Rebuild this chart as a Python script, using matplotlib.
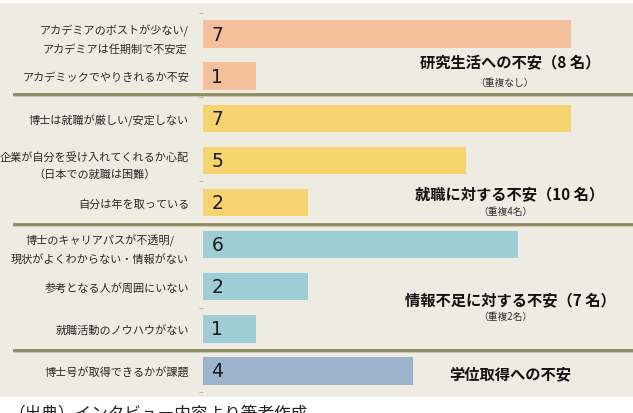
import matplotlib.pyplot as plt
from matplotlib.patches import Rectangle
from matplotlib.transforms import blended_transform_factory

plt.rcParams['font.family'] = ['Noto Sans CJK JP', 'DejaVu Sans']

labels = [
    "アカデミアのボストが少ない/\nアカデミアは任期制で不安定",
    "アカデミックでやりきれるか不安",
    "博士は就職が厳しい/安定しない",
    "企業が自分を受け入れてくれるか心配\n（日本での就職は困難）",
    "自分は年を取っている",
    "博士のキャリアパスが不透明/\n現状がよくわからない・情報がない",
    "参考となる人が周囲にいない",
    "就職活動のノウハウがない",
    "博士号が取得できるかが課題",
]
counts = [7, 1, 7, 5, 2, 6, 2, 1, 4]
groups = [0, 0, 1, 1, 1, 2, 2, 2, 3]
group_colors = ["#F3C09B", "#F6D36F", "#9ECDD5", "#9DB2CD"]
group_titles = ["研究生活への不安（8 名）", "就職に対する不安（10 名）",
                "情報不足に対する不安（7 名）", "学位取得への不安"]
group_notes = ["（重複なし）", "（重複4名）", "（重複2名）", ""]
title_y = [0.66, 3.78, 6.29, 8.05]
note_y = [1.14, 4.20, 6.70, None]
separators = [1.42, 4.5, 7.5]

W, H = 633, 414
fig = plt.figure(figsize=(W / 100, H / 100), dpi=100)
fig.patch.set_facecolor("white")
bg = "#EEEBE2"
fig.patches.append(Rectangle((0, 1 - 398 / H), 1, 394 / H, transform=fig.transFigure,
                             facecolor=bg, edgecolor="none", zorder=-10))

ax = fig.add_axes([203 / W, 1 - 393 / H, 8 * 52.57 / W, 379 / H])
ax.set_facecolor("none")
ypos = list(range(len(counts)))
ax.barh(ypos, counts, height=0.65, color=[group_colors[g] for g in groups], zorder=2)
ax.set_xlim(0, 8)
ax.set_ylim(8.5, -0.5)
for s in ax.spines.values():
    s.set_visible(False)
ax.set_xticks([])
ax.set_yticks(ypos)
ax.set_yticklabels(labels, fontsize=8, color="#2A2A2A", linespacing=1.8,
                   multialignment="center")
ax.tick_params(axis="y", length=0, pad=10)
ax.set_yticks([-0.5, 1.5, 3.5, 6.5, 8.5], minor=True)
ax.tick_params(axis="y", which="minor", length=3, color="#B8B8B0", width=0.8)

for y, c in zip(ypos, counts):
    ax.annotate(str(c), (0, y), xytext=(6, 0), textcoords="offset points",
                va="center", ha="left", fontsize=13.5, color="#1A1A1A",
                family="DejaVu Sans", zorder=3)

tr = blended_transform_factory(fig.transFigure, ax.transData)
for y in separators:
    ax.plot([14 / W, 1], [y + 0.03, y + 0.03], transform=tr, color="#C9C4B0",
            lw=2, clip_on=False, zorder=1)
    ax.plot([14 / W, 1], [y, y], transform=tr, color="#8C8A5E",
            lw=2, clip_on=False, zorder=1)

for t, ty, n, ny in zip(group_titles, title_y, group_notes, note_y):
    ax.text(510 / W, ty, t, transform=tr, ha="center", va="center",
            fontsize=11, fontweight="bold", color="#111111")
    if n:
        ax.text(505 / W, ny, n, transform=tr, ha="center", va="center",
                fontsize=7, color="#333333")

fig.text(8 / W, 1 - 406 / H, "（出典）インタビュー内容より筆者作成", ha="left", va="top",
         fontsize=12, color="#222222")

fig.savefig("out.png", dpi=100)
